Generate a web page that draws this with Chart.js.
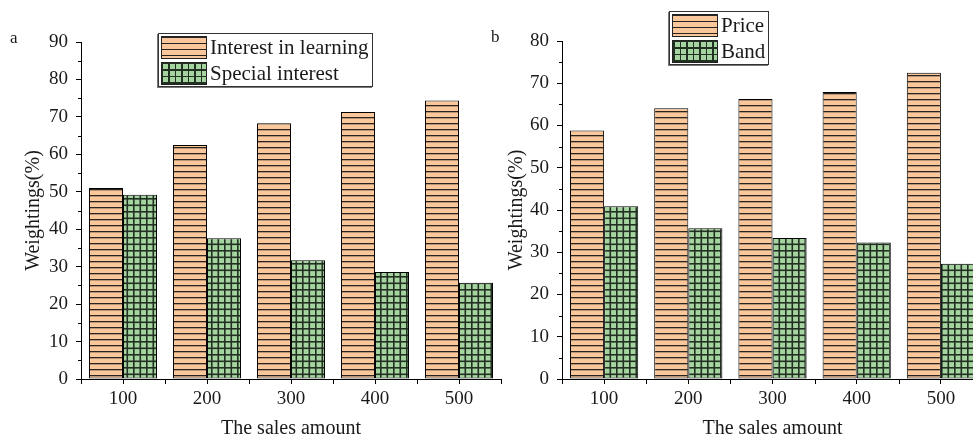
<!DOCTYPE html>
<html>
<head>
<meta charset="utf-8">
<script src="https://cdn.jsdelivr.net/npm/chart.js"></script>
<style>
  html, body { margin: 0; padding: 0; background: #fff; }
  #wrap { position: relative; width: 973px; height: 445px; overflow: hidden; font-family: 'Liberation Serif', 'Times New Roman', serif; color: #1a1a1a; }
  canvas { position: absolute; top: 0; }
  #chartA { left: 0; }
  #chartB { left: 483px; }
  .panel-tag { position: absolute; font-size: 17px; line-height: 17px; }
  .legend { position: absolute; background: #fff; border: 1px solid #333; box-shadow: -1px 1px 0 #777; padding: 0 3px 0 2px; }
  .legend .row { height: 26px; line-height: 26px; font-size: 21px; white-space: nowrap; }
  .legend .sw { display: inline-block; width: 44px; height: 21px; margin: 2px 3px 0 0; vertical-align: top; border: 1px solid #222; }
  .sw.stripe { background: repeating-linear-gradient(to bottom, #2a2420 0 1px, #fac79b 1px 6px); }
  .sw.grid { background:
      repeating-linear-gradient(to right, #223022 0 1.5px, transparent 1.5px 6.5px),
      repeating-linear-gradient(to bottom, #223022 0 1.5px, #a6d4a0 1.5px 6.5px); }
</style>
</head>
<body>
<div id="wrap">
  <canvas id="chartA" width="530" height="445"></canvas>
  <canvas id="chartB" width="520" height="445"></canvas>
  <div class="panel-tag" style="left:10px; top:29px;">a</div>
  <div class="panel-tag" style="left:491px; top:28px;">b</div>
  <div class="legend" id="legendA" style="left:158px; top:33px;"></div>
  <div class="legend" id="legendB" style="left:669px; top:11px;"></div>
</div>
<script>
// data
const salesAmounts = ['100', '200', '300', '400', '500'];
const seriesNamesA = ['Interest in learning', 'Special interest'];
const learningInterest = [51.0, 62.5, 68.3, 71.3, 74.4];
const specialInterest = [49.2, 37.6, 31.7, 28.6, 25.7];
const seriesNamesB = ['Price', 'Band'];
const priceWeight = [58.8, 64.1, 66.3, 67.9, 72.5];
const bandWeight = [40.9, 35.7, 33.4, 32.3, 27.3];
const yMaxA = 90;
const yMaxB = 80;

const PEACH = '#fac79b';
const GREEN = '#a6d4a0';
const serif = "'Liberation Serif', 'Times New Roman', serif";

function stripePattern() {
    const c = document.createElement('canvas');
    c.width = 6; c.height = 6;
    const g = c.getContext('2d');
    g.fillStyle = PEACH;
    g.fillRect(0, 0, 6, 6);
    g.fillStyle = '#2a2420';
    g.fillRect(0, 3, 6, 1.3);
    return g.createPattern(c, 'repeat');
}

function gridPattern() {
    const c = document.createElement('canvas');
    c.width = 13; c.height = 13;
    const g = c.getContext('2d');
    g.fillStyle = GREEN;
    g.fillRect(0, 0, 13, 13);
    g.fillStyle = '#223022';
    g.fillRect(0, 3, 13, 1.6);
    g.fillRect(0, 9.5, 13, 1.6);
    g.fillRect(3, 0, 1.6, 13);
    g.fillRect(9.5, 0, 1.6, 13);
    return g.createPattern(c, 'repeat');
}

// minor ticks: y at the 5s, x at category boundaries
const minorTicks = {
    id: 'minorTicks',
    afterDraw(chart) {
        const { ctx, chartArea, scales: { x, y } } = chart;
        ctx.save();
        ctx.strokeStyle = '#000';
        ctx.lineWidth = 1;
        ctx.beginPath();
        for (let v = 5; v < y.max; v += 10) {
            const py = Math.round(y.getPixelForValue(v)) + 0.5;
            ctx.moveTo(chartArea.left - 3, py);
            ctx.lineTo(chartArea.left, py);
        }
        for (let i = 0; i <= chart.data.labels.length; i++) {
            const px = Math.round(x.getPixelForValue(i - 0.5)) + 0.5;
            ctx.moveTo(px, chartArea.bottom);
            ctx.lineTo(px, chartArea.bottom + 5);
        }
        ctx.stroke();
        ctx.restore();
    }
};

function makeChart(canvasId, names, first, second, yMax, pad, yWidth) {
    const tickFont = { family: serif, size: 19 };
    const titleFont = { family: serif, size: 20 };
    return new Chart(document.getElementById(canvasId), {
        type: 'bar',
        data: {
            labels: salesAmounts,
            datasets: [
                { label: names[0], data: first, backgroundColor: stripePattern(), borderColor: '#000', borderWidth: 1, borderSkipped: false },
                { label: names[1], data: second, backgroundColor: gridPattern(), borderColor: '#000', borderWidth: 1, borderSkipped: false }
            ]
        },
        options: {
            responsive: false,
            animation: false,
            devicePixelRatio: 1,
            categoryPercentage: 0.81,
            barPercentage: 1.0,
            layout: { padding: pad },
            plugins: { legend: { display: false }, tooltip: { enabled: false } },
            scales: {
                x: {
                    offset: true,
                    grid: { offset: false, drawOnChartArea: false, tickLength: 5, color: '#000' },
                    border: { color: '#000' },
                    ticks: { padding: 4, font: tickFont, color: '#1a1a1a' },
                    title: { display: true, text: 'The sales amount', font: titleFont, color: '#1a1a1a', padding: { top: 0, bottom: 4 } },
                    afterFit(s) { s.height = 445 - 379; }
                },
                y: {
                    min: 0,
                    max: yMax,
                    grid: { drawOnChartArea: false, tickLength: 5, color: '#000' },
                    border: { color: '#000' },
                    ticks: { stepSize: 10, padding: 8, font: tickFont, color: '#1a1a1a' },
                    title: { display: true, text: 'Weightings(%)', font: titleFont, color: '#1a1a1a', padding: 0 },
                    afterFit(s) { s.width = yWidth; }
                }
            }
        },
        plugins: [minorTicks]
    });
}

function buildLegend(id, names) {
    const box = document.getElementById(id);
    ['stripe', 'grid'].forEach(function(kind, i) {
        const row = document.createElement('div');
        row.className = 'row';
        const sw = document.createElement('span');
        sw.className = 'sw ' + kind;
        row.appendChild(sw);
        row.appendChild(document.createTextNode(names[i]));
        box.appendChild(row);
    });
}

// panel a: plot area x 81..501, y 42..379
makeChart('chartA', seriesNamesA, learningInterest, specialInterest, yMaxA, { left: 22, top: 42, right: 29, bottom: 0 }, 59);
// panel b: plot area x 562..983 (runs past the window), y 41..379
makeChart('chartB', seriesNamesB, priceWeight, bandWeight, yMaxB, { left: 22, top: 41, right: 20, bottom: 0 }, 57);

buildLegend('legendA', seriesNamesA);
buildLegend('legendB', seriesNamesB);
</script>
</body>
</html>
